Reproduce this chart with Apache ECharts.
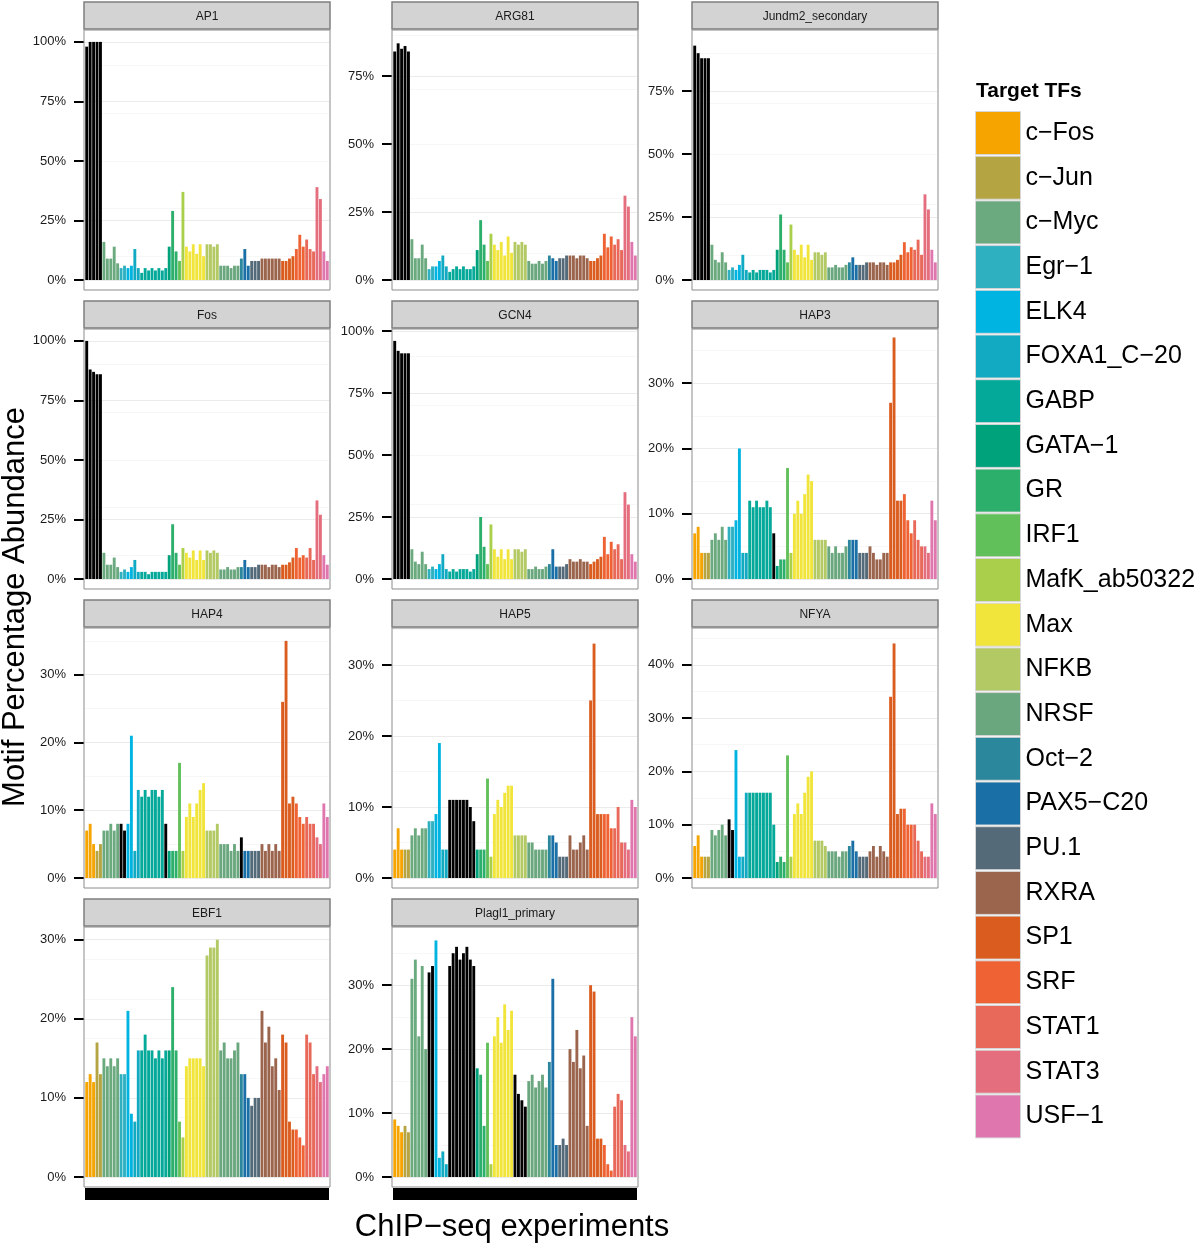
<!DOCTYPE html>
<html><head><meta charset="utf-8">
<script src="https://cdn.jsdelivr.net/npm/echarts@6/dist/echarts.min.js"></script>
<style>html,body{margin:0;padding:0;background:#fff}#c{width:1200px;height:1245px}</style>
</head><body><div id="c"></div>
<script>
// ---- legend / target TFs ----
const tfNames = ['c−Fos','c−Jun','c−Myc','Egr−1','ELK4','FOXA1_C−20','GABP','GATA−1','GR','IRF1','MafK_ab50322','Max','NFKB','NRSF','Oct−2','PAX5−C20','PU.1','RXRA','SP1','SRF','STAT1','STAT3','USF−1'];
const tfColors = ['#F6A500','#B5A442','#6BAA7F','#2FB0C0','#00B4E1','#12AAC2','#04A99A','#00A27C','#2CAF6A','#62C05B','#AACF4A','#F1E53B','#B3C964','#6AA77E','#2B889C','#1A70A6','#546A79','#9B644C','#DB5C1F','#EE6233','#E8695A','#E46E7D','#DF77AE'];
// number of ChIP-seq experiments per target TF (x order)
const tfCounts = [3,2,5,2,2,2,8,1,2,1,1,6,4,6,1,2,3,6,4,3,3,2,2];

// ---- panels ----
const panelNames = ['AP1','ARG81','Jundm2_secondary','Fos','GCN4','HAP3','HAP4','HAP5','NFYA','EBF1','Plagl1_primary'];
const panelMax = [105, 91.9, 99.2, 105, 100.8, 38.3, 36.9, 35.2, 46.9, 31.6, 39.1];

// y tick labels per panel
const ticks_ap1 = [0,25,50,75,100];
const ticks_arg81 = [0,25,50,75];
const ticks_jundm2 = [0,25,50,75];
const ticks_fos = [0,25,50,75,100];
const ticks_gcn4 = [0,25,50,75,100];
const ticks_hap3 = [0,10,20,30];
const ticks_hap4 = [0,10,20,30];
const ticks_hap5 = [0,10,20,30];
const ticks_nfya = [0,10,20,30,40];
const ticks_ebf1 = [0,10,20,30];
const ticks_plagl1 = [0,10,20,30];

// motif percentage abundance per experiment (grouped by TF as in tfCounts)
const ap1 = [98,100,100, 100,100, 16,9,9,14,7, 5,6, 5,6, 13,5, 3,5,4,5,4,5,4,5, 14, 29,12, 8, 37, 14,12,15,11,15,10, 15,15,14,15, 6,6,6,5,6,6, 9, 13,6, 8,8,8, 9,9,9,9,9,9, 8,8,9,10, 13,19,14, 17,13,12, 39,34, 12,8];
const arg81 = [84,87,85, 86,84, 15,8,8,13,8, 4,5, 5,7, 9,5, 3,4,5,4,5,4,4,5, 11, 22,13, 7, 17, 13,11,14,9,16,10, 14,13,14,13, 7,6,6,7,6,7, 9, 8,7, 8,8,9, 9,9,8,9,9,8, 7,7,8,9, 17,12,16, 13,15,11, 31,27, 14,9];
const jundm2 = [93,90,88, 88,88, 14,8,7,11,7, 4,5, 4,6, 10,4, 3,4,3,4,4,4,3,4, 12, 26,12, 7, 22, 12,10,14,9,14,8, 11,11,10,11, 5,5,6,5,5,6, 7, 9,6, 6,6,7, 7,7,6,7,7,6, 7,7,8,10, 15,11,13, 12,16,10, 34,28, 12,7];
const fos = [100,88,87, 86,86, 11,6,6,9,5, 3,4, 3,5, 8,3, 3,3,2,3,3,3,3,3, 10, 23,11, 6, 13, 11,9,12,8,12,8, 12,11,12,11, 4,4,5,4,4,5, 5, 8,5, 5,5,6, 6,6,5,6,6,5, 6,6,7,9, 13,9,10, 9,13,8, 33,27, 10,6];
const gcn4 = [96,92,91, 91,91, 12,7,6,11,6, 4,5, 4,6, 10,4, 3,4,3,4,4,4,3,4, 10, 25,13, 6, 22, 12,9,12,8,12,8, 12,12,11,12, 4,4,5,4,4,5, 6, 12,5, 5,5,6, 8,7,7,8,7,7, 6,7,8,9, 17,10,15, 12,14,8, 35,30, 10,7];
const hap3 = [7,8,4, 4,4, 6,7,6,8,6, 8,8, 9,20, 4,4, 12,11,12,11,11,12,11,7, 2, 3,3, 17, 4, 10,12,10,13,16,15, 6,6,6,6, 5,4,5,4,4,5, 6, 6,6, 4,4,4, 5,4,3,3,4,4, 27,37,12,12, 13,9,7, 9,6,5, 5,4, 12,9];
const hap4 = [7,8,5, 4,5, 7,7,8,7,8, 8,7, 8,21, 4,13, 12,13,12,13,13,12,13,8, 4, 4,4, 17, 4, 9,11,9,11,13,14, 7,7,7,8, 5,5,5,4,5,4, 6, 4,4, 4,4,4, 5,4,5,4,5,4, 26,35,11,12, 11,9,8, 9,8,8, 6,5, 11,9];
const hap5 = [4,7,4, 4,4, 6,7,6,7,7, 8,8, 9,19, 4,4, 11,11,11,11,11,11,10,8, 4, 4,4, 14, 3, 9,11,10,12,13,13, 6,6,6,6, 5,5,4,4,4,4, 6, 6,5, 3,3,3, 6,4,4,5,6,4, 25,33,9,9, 9,9,7, 7,10,5, 5,4, 11,10];
const nfya = [6,8,4, 4,4, 9,8,9,10,8, 11,9, 24,4, 4,16, 16,16,16,16,16,16,16,10, 3, 4,3, 23, 4, 12,14,12,16,19,20, 7,7,7,6, 5,5,5,4,5,5, 6, 7,5, 4,4,4, 5,6,4,6,5,4, 34,44,12,13, 13,10,10, 10,7,5, 4,4, 14,12];
const ebf1 = [12,13,12, 17,13, 15,14,15,14,15, 13,13, 21,8, 7,16, 16,18,16,16,15,16,15,16, 16, 24,16, 7, 5, 14,15,15,15,15,14, 28,29,29,30, 16,17,15,15,16,17, 13, 13,10, 9,10,10, 21,17,19,14,15,11, 18,17,7,6, 6,5,4, 18,17,13, 14,12, 13,14];
const plagl1 = [9,8,7, 8,7, 31,34,22,33,20, 32,33, 37,3, 4,2, 33,35,36,34,35,36,34,33, 17, 16,8, 21, 2, 22,25,21,27,23,26, 16,13,12,11, 15,16,14,15,16,14, 18, 31,5, 5,6,5, 20,18,23,17,19,8, 30,29,6,6, 5,2,1, 11,13,12, 5,4, 25,22];

// experiments drawn in black (target TF matches the motif family)
const hl_ap1 = [0,1,2,3,4];
const hl_arg81 = [0,1,2,3,4];
const hl_jundm2 = [0,1,2,3,4];
const hl_fos = [0,1,2,3,4];
const hl_gcn4 = [0,1,2,3,4];
const hl_hap3 = [23];
const hl_hap4 = [10,11,23,45];
const hl_hap5 = [16,17,18,19,20,21,22,23];
const hl_nfya = [10,11];
const hl_ebf1 = [];
const hl_plagl1 = [10,11,16,17,18,19,20,21,22,23,35,36,37,38];

const panelValues = [ap1,arg81,jundm2,fos,gcn4,hap3,hap4,hap5,nfya,ebf1,plagl1];
const panelTicks = [ticks_ap1,ticks_arg81,ticks_jundm2,ticks_fos,ticks_gcn4,ticks_hap3,ticks_hap4,ticks_hap5,ticks_nfya,ticks_ebf1,ticks_plagl1];
const panelHL = [hl_ap1,hl_arg81,hl_jundm2,hl_fos,hl_gcn4,hl_hap3,hl_hap4,hl_hap5,hl_nfya,hl_ebf1,hl_plagl1];

// ---- build ----
const FONT = '"Liberation Sans", Arial, Helvetica, sans-serif';
const expTF = [];
tfCounts.forEach((n, k) => { for (let i = 0; i < n; i++) expTF.push(k); });
const categories = expTF.map((k, i) => 'E' + (i + 1));

const colX = [84, 392, 692];
const PW = 246;
const stripTop = [2, 301, 600, 899];
const STRIP_H = 27;
const PLOT_H = 250;

const grids = [], xAxes = [], yAxes = [], series = [], graphics = [];
panelNames.forEach((name, i) => {
  const row = Math.floor(i / 3), col = i % 3;
  const x0 = colX[col];
  const st = stripTop[row];
  const pt = st + STRIP_H + 1;
  grids.push({left: x0 + 1, top: pt, width: PW - 2, height: PLOT_H});
  const bottomRow = (i >= 9);
  xAxes.push({
    gridIndex: i, type: 'category', data: categories, position: 'bottom',
    axisLabel: {show: false}, axisTick: {show: false},
    axisLine: {show: bottomRow, onZero: false, lineStyle: {color: '#000', width: 12, cap: 'butt'}},
    offset: bottomRow ? 17 : 0,
    splitLine: {show: false}
  });
  yAxes.push({
    gridIndex: i, type: 'value', min: 0, max: panelMax[i], offset: 1,
    axisLine: {show: false},
    axisTick: {show: true, length: 10, customValues: panelTicks[i], lineStyle: {color: '#000', width: 2}},
    axisLabel: {customValues: panelTicks[i], formatter: '{value}%', fontSize: 13, color: '#1a1a1a', margin: 18, fontFamily: FONT},
    splitLine: {show: true, lineStyle: {color: '#EBEBEB', width: 1}},
    minorTick: {show: false, splitNumber: 2},
    minorSplitLine: {show: true, lineStyle: {color: '#F7F7F7', width: 1}}
  });
  const hl = panelHL[i];
  series.push({
    type: 'bar', name: name, xAxisIndex: i, yAxisIndex: i, silent: true,
    barCategoryGap: '16%',
    data: panelValues[i].map((v, j) => ({value: v, itemStyle: {color: hl.indexOf(j) >= 0 ? '#000000' : tfColors[expTF[j]]}}))
  });
  // strip
  graphics.push({type: 'rect', shape: {x: x0, y: st, width: PW, height: STRIP_H}, style: {fill: '#D3D3D3', stroke: '#7F7F7F', lineWidth: 1.5}, z: 10});
  graphics.push({type: 'text', x: x0 + PW / 2, y: st + STRIP_H / 2 + 1, style: {text: name, textAlign: 'center', textVerticalAlign: 'middle', font: '12px ' + FONT, fill: '#1a1a1a'}, z: 11});
  // panel border
  graphics.push({type: 'rect', shape: {x: x0, y: pt, width: PW, height: PLOT_H + 10}, style: {fill: null, stroke: '#8C8C8C', lineWidth: 1}, z: 10, silent: true});
});

// legend series (no data)
tfNames.forEach((n, k) => {
  series.push({type: 'line', name: n, xAxisIndex: 0, yAxisIndex: 0, data: [], itemStyle: {color: tfColors[k]}, lineStyle: {color: tfColors[k]}});
});

graphics.push({type: 'text', x: 15, y: 607, rotation: Math.PI / 2, style: {text: 'Motif Percentage Abundance', textAlign: 'center', textVerticalAlign: 'middle', font: '31px ' + FONT, fill: '#000'}});
graphics.push({type: 'text', x: 512, y: 1227, style: {text: 'ChIP−seq experiments', textAlign: 'center', textVerticalAlign: 'middle', font: '31px ' + FONT, fill: '#000'}});

const chart = echarts.init(document.getElementById('c'), null, {renderer: 'canvas'});
chart.setOption({
  animation: false,
  backgroundColor: '#ffffff',
  title: {text: 'Target TFs', left: 976, top: 81, padding: 0, textStyle: {fontSize: 21, fontWeight: 'bold', color: '#000', fontFamily: FONT}},
  legend: {
    data: tfNames, orient: 'vertical', left: 975, top: 111, padding: 0,
    icon: 'rect', itemWidth: 45, itemHeight: 43, itemGap: 0.7,
    itemStyle: {borderColor: '#D6D6D6', borderWidth: 1},
    textStyle: {fontSize: 25, color: '#000', fontFamily: FONT},
    selectedMode: false
  },
  grid: grids, xAxis: xAxes, yAxis: yAxes, series: series,
  graphic: graphics
});
</script></body></html>
